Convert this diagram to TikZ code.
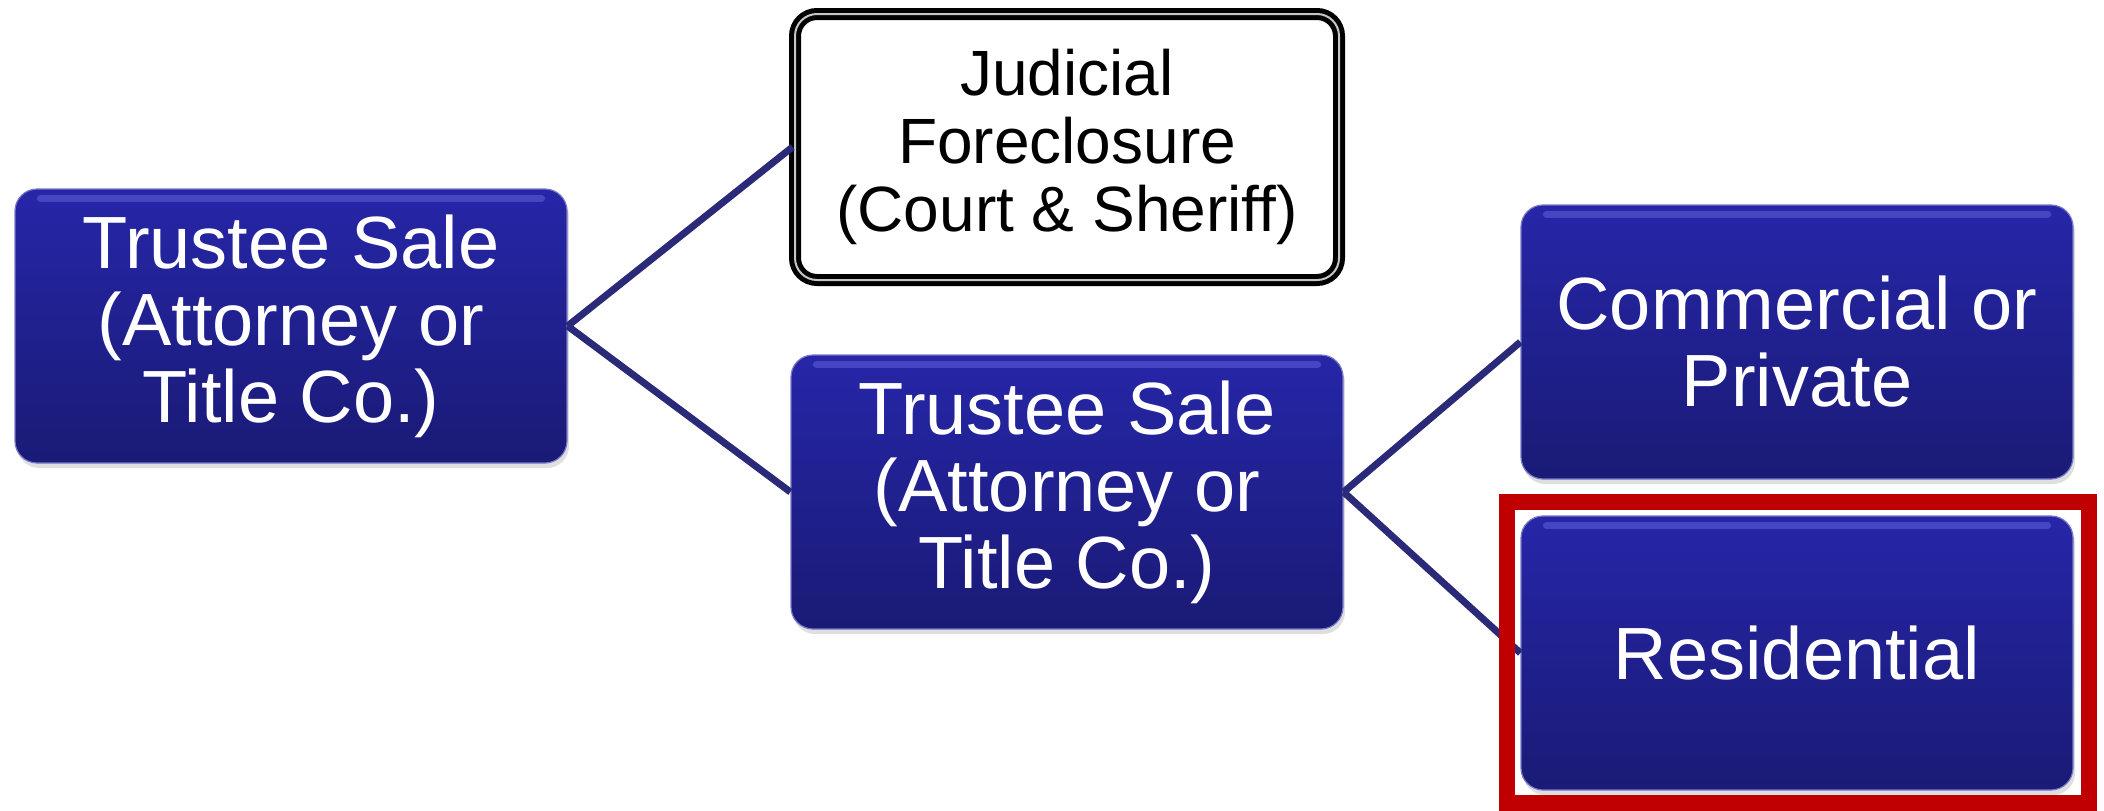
\documentclass[tikz,border=0pt]{standalone}
\usepackage{fontspec}
\setmainfont{Liberation Sans}
\usetikzlibrary{shadows}
\definecolor{boxtop}{RGB}{38,38,168}
\definecolor{boxbot}{RGB}{26,26,118}
\definecolor{boxedge}{RGB}{120,120,200}
\definecolor{gloss}{RGB}{110,110,230}
\definecolor{linkcol}{RGB}{43,42,120}
\definecolor{markred}{RGB}{192,0,0}
\tikzset{
  bluebox/.style={rounded corners=22pt, minimum width=552pt, minimum height=274pt,
    inner sep=0pt, top color=boxtop, bottom color=boxbot, draw=boxedge,
    line width=1.2pt, text=white, align=center,
    font=\fontsize{74}{77}\selectfont,
    drop shadow={opacity=0.25, shadow xshift=2pt, shadow yshift=-5pt}},
  whitebox/.style={rounded corners=22pt, minimum width=544pt, minimum height=266pt,
    inner sep=0pt, fill=white, draw=black, line width=5pt,
    double=gray!45, double distance=2pt, text=black, align=center,
    font=\fontsize{64}{68}\selectfont},
  link/.style={draw=linkcol, line width=7pt},
  glossline/.style={draw=gloss, line width=7pt, line cap=round, opacity=0.45},
  markbox/.style={draw=markred, line width=16pt}
}
\begin{document}
\begin{tikzpicture}[x=1pt, y=-1pt]
\useasboundingbox (0,0) rectangle (2104,811);

\node[bluebox] (left) at (291,326) {Trustee Sale\\(Attorney or\\Title Co.)};
\node[whitebox] (judicial) at (1067,147) {Judicial\\Foreclosure\\(Court \& Sheriff)};
\node[bluebox] (mid) at (1067,492) {Trustee Sale\\(Attorney or\\Title Co.)};
\node[bluebox] (comm) at (1797,342) {Commercial or\\Private};
\node[bluebox] (res) at (1797,653) {Residential};

% connectors
\draw[link] (left.east) -- (judicial.west);
\draw[link] (left.east) -- (mid.west);
\draw[link] (mid.east) -- (comm.west);
\draw[link] (mid.east) -- (res.west);

% glossy top highlight of the blue boxes
\foreach \n in {left,mid,comm,res}{
  \draw[glossline] ([xshift=26pt,yshift=-10pt]\n.north west) -- ([xshift=-26pt,yshift=-10pt]\n.north east);
}

% red frame around the residential box
\draw[markbox] (1507,502) rectangle (2089,803);
\end{tikzpicture}
\end{document}
